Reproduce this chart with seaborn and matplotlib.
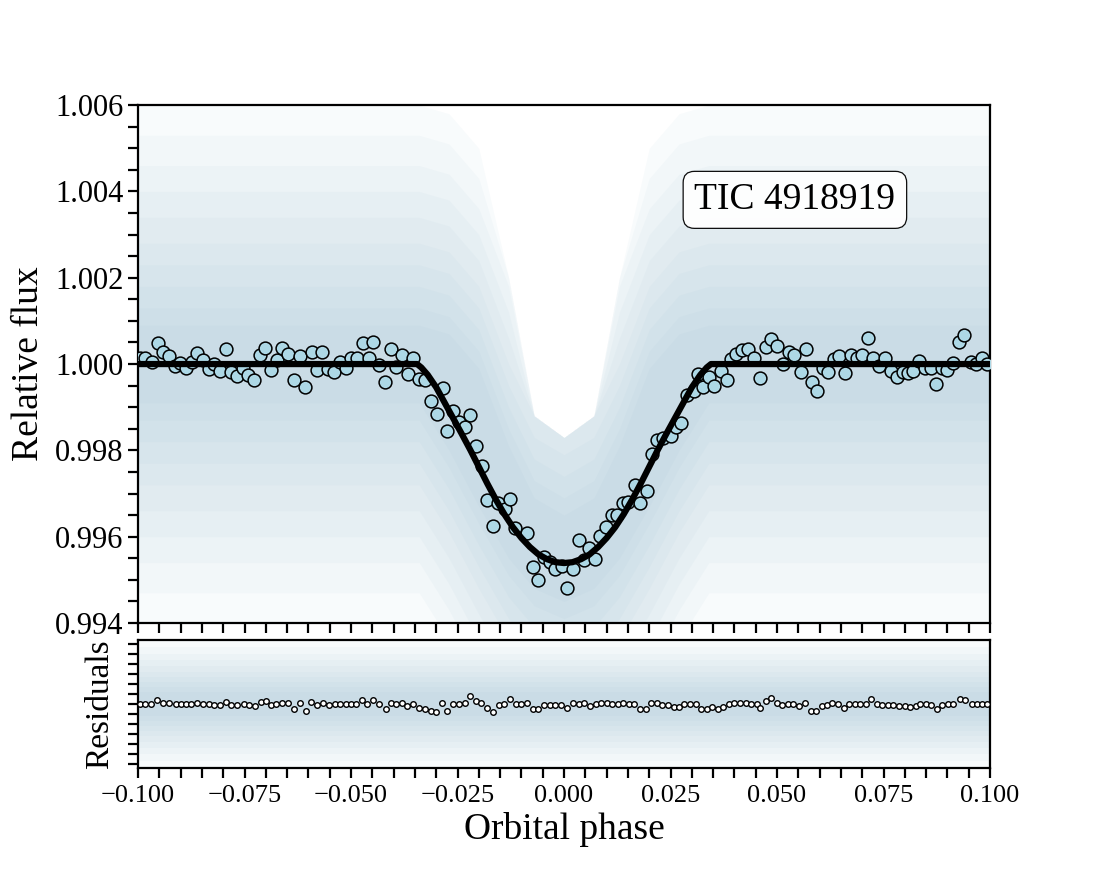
import numpy as np
import pandas as pd
import seaborn as sns
import matplotlib
matplotlib.use("Agg")
import matplotlib.pyplot as plt
from matplotlib.ticker import MultipleLocator, FuncFormatter, NullFormatter

# binned light curve
bin_phase = [
    -0.0995, -0.0984, -0.0968, -0.0954, -0.0942, -0.0927, -0.0913, -0.0901, -0.0887, -0.0874,
    -0.0861, -0.0848, -0.0833, -0.0822, -0.0808, -0.0793, -0.0782, -0.0768, -0.0753, -0.0741,
    -0.0727, -0.0714, -0.0702, -0.0688, -0.0674, -0.0661, -0.0647, -0.0634, -0.0620, -0.0608,
    -0.0592, -0.0579, -0.0567, -0.0553, -0.0540, -0.0527, -0.0512, -0.0501, -0.0487, -0.0473,
    -0.0459, -0.0448, -0.0434, -0.0420, -0.0407, -0.0394, -0.0381, -0.0367, -0.0354, -0.0340,
    -0.0326, -0.0313, -0.0299, -0.0285, -0.0274, -0.0260,
    -0.0246, -0.0232, -0.0221, -0.0207, -0.0193, -0.0181, -0.0166, -0.0154, -0.0138, -0.0127,
    -0.0115, -0.0088, -0.0072, -0.0060, -0.0047, -0.0033, -0.0021, -0.0005, 0.0006, 0.0020,
    0.0034, 0.0047, 0.0059, 0.0073, 0.0085, 0.0099, 0.0112, 0.0125, 0.0138, 0.0151,
    0.0167, 0.0178, 0.0194, 0.0206, 0.0219, 0.0233, 0.0250, 0.0263, 0.0274, 0.0288,
    0.0304, 0.0314, 0.0327, 0.0341, 0.0353, 0.0368, 0.0382,
    0.0391, 0.0404, 0.0417, 0.0433, 0.0446, 0.0460, 0.0474, 0.0485, 0.0501, 0.0515,
    0.0527, 0.0541, 0.0556, 0.0567, 0.0581, 0.0595, 0.0607, 0.0620, 0.0634, 0.0646,
    0.0660, 0.0673, 0.0687, 0.0700, 0.0714, 0.0726, 0.0740, 0.0754, 0.0767, 0.0781,
    0.0795, 0.0807, 0.0820, 0.0834, 0.0847, 0.0861, 0.0873, 0.0887, 0.0900, 0.0914,
    0.0928, 0.0940, 0.0955, 0.0967, 0.0981, 0.0992,
]
bin_flux = [
    1.00013, 1.00015, 1.00005, 1.00048, 1.00027, 1.00019, 0.99996, 1.00002, 0.99990, 1.00004,
    1.00025, 1.00010, 0.99988, 1.00000, 0.99983, 1.00035, 0.99981, 0.99972, 0.99992, 0.99975,
    0.99962, 1.00021, 1.00037, 0.99986, 1.00010, 1.00037, 1.00023, 0.99963, 1.00019, 0.99946,
    1.00029, 0.99987, 1.00027, 0.99988, 0.99982, 1.00004, 0.99991, 1.00013, 1.00013, 1.00048,
    1.00014, 1.00051, 0.99998, 0.99958, 1.00035, 0.99994, 1.00021, 0.99977, 1.00013, 0.99965,
    0.99962, 0.99915, 0.99885, 0.99944, 0.99846, 0.99892,
    0.99865, 0.99854, 0.99881, 0.99811, 0.99764, 0.99685, 0.99625, 0.99677, 0.99665, 0.99688,
    0.99621, 0.99608, 0.99529, 0.99499, 0.99554, 0.99541, 0.99525, 0.99531, 0.99481, 0.99525,
    0.99592, 0.99546, 0.99575, 0.99548, 0.99601, 0.99622, 0.99650, 0.99650, 0.99679, 0.99681,
    0.99719, 0.99679, 0.99706, 0.99792, 0.99823, 0.99828, 0.99833, 0.99854, 0.99864, 0.99928,
    0.99938, 0.99977, 0.99948, 0.99969, 0.99949, 0.99983, 0.99964,
    1.00012, 1.00023, 1.00032, 1.00035, 1.00013, 0.99967, 1.00039, 1.00058, 1.00042, 1.00000,
    1.00029, 1.00021, 0.99982, 1.00035, 0.99958, 0.99938, 0.99992, 0.99981, 1.00012, 1.00019,
    0.99979, 1.00021, 1.00015, 1.00021, 1.00060, 1.00013, 0.99996, 1.00015, 0.99985, 0.99969,
    0.99981, 0.99979, 0.99985, 1.00008, 0.99992, 0.99992, 0.99954, 0.99992, 0.99987, 1.00002,
    1.00051, 1.00067, 1.00005, 1.00000, 1.00015, 1.00000,
]

# transit model
model_phase = [
    -0.1000, -0.0345, -0.0335, -0.0320, -0.0300, -0.0280, -0.0260, -0.0240, -0.0220, -0.0200,
    -0.0180, -0.0160, -0.0140, -0.0120, -0.0100, -0.0080, -0.0060, -0.0040, -0.0020, 0.0000,
    0.0020, 0.0040, 0.0060, 0.0080, 0.0100, 0.0120, 0.0140, 0.0160, 0.0180, 0.0200,
    0.0220, 0.0240, 0.0260, 0.0280, 0.0300, 0.0320, 0.0335, 0.0345, 0.1000,
]
model_flux = [
    1.00000, 1.00000, 0.99992, 0.99975, 0.99946, 0.99910, 0.99874, 0.99838, 0.99801, 0.99762,
    0.99723, 0.99686, 0.99652, 0.99622, 0.99597, 0.99576, 0.99559, 0.99548, 0.99541, 0.99539,
    0.99541, 0.99548, 0.99559, 0.99576, 0.99597, 0.99622, 0.99652, 0.99686, 0.99723, 0.99762,
    0.99801, 0.99838, 0.99874, 0.99910, 0.99946, 0.99975, 0.99992, 1.00000, 1.00000,
]

# unbinned cloud: lower / upper centre, upper cut-off and spread of the layers
cloud_phase = [-0.100, -0.034, -0.027, -0.020, -0.013, -0.007, 0.000,
               0.007, 0.013, 0.020, 0.027, 0.034, 0.100]
cloud_mid_lo = [1.0000, 1.0000, 0.9989, 0.9976, 0.9964, 0.9957, 0.9954,
                0.9957, 0.9964, 0.9976, 0.9989, 1.0000, 1.0000]
cloud_mid_hi = [1.0000, 1.0000, 0.9998, 0.9990, 0.9972, 0.9960, 0.9956,
                0.9960, 0.9972, 0.9990, 0.9998, 1.0000, 1.0000]
cloud_top = [1.0065, 1.0065, 1.0065, 1.0058, 1.0020, 0.9988, 0.9983,
             0.9988, 1.0020, 1.0058, 1.0065, 1.0065, 1.0065]
cloud_spread = [0.0060, 0.0053, 0.0046, 0.0040, 0.0034, 0.0028, 0.0023, 0.0018, 0.0013, 0.0009]

# residuals
res_phase = [
    -0.0996, -0.0983, -0.0969, -0.0955, -0.0941, -0.0928, -0.0912, -0.0900, -0.0887, -0.0875,
    -0.0861, -0.0847, -0.0834, -0.0822, -0.0808, -0.0793, -0.0781, -0.0767, -0.0751, -0.0739,
    -0.0726, -0.0711, -0.0699, -0.0687, -0.0675, -0.0662, -0.0648, -0.0634, -0.0620, -0.0606,
    -0.0593, -0.0580, -0.0566, -0.0552, -0.0538, -0.0525, -0.0512, -0.0499, -0.0488, -0.0474,
    -0.0462, -0.0448, -0.0435, -0.0419, -0.0407, -0.0394, -0.0380, -0.0368, -0.0354, -0.0341,
    -0.0327, -0.0313, -0.0300, -0.0286, -0.0274, -0.0261, -0.0247, -0.0233, -0.0220, -0.0206,
    -0.0194, -0.0181, -0.0167, -0.0153, -0.0141, -0.0126, -0.0113, -0.0100, -0.0087, -0.0073,
    -0.0061, -0.0047, -0.0034, -0.0022, -0.0006, 0.0008,
    0.0022, 0.0035, 0.0048, 0.0061, 0.0074, 0.0087, 0.0100, 0.0113, 0.0126, 0.0139,
    0.0153, 0.0165, 0.0178, 0.0192, 0.0204, 0.0218, 0.0231, 0.0243, 0.0257, 0.0270,
    0.0282, 0.0296, 0.0309, 0.0322, 0.0335, 0.0348, 0.0361, 0.0374, 0.0388, 0.0400,
    0.0413, 0.0427, 0.0439, 0.0452, 0.0460, 0.0473, 0.0486, 0.0499, 0.0512, 0.0525,
    0.0538, 0.0552, 0.0566, 0.0579, 0.0592, 0.0605, 0.0617, 0.0630, 0.0644, 0.0657,
    0.0670, 0.0683, 0.0695, 0.0708, 0.0721, 0.0734, 0.0747, 0.0760, 0.0773, 0.0786,
    0.0800, 0.0812, 0.0826, 0.0836, 0.0849, 0.0862, 0.0875, 0.0888, 0.0902, 0.0914,
    0.0930, 0.0941, 0.0957, 0.0969, 0.0981, 0.0992,
]
res_flux = [
    0.00000, 0.00000, 0.00000, 0.00040, 0.00013, 0.00007, -0.00003, -0.00003, -0.00003, 0.00000,
    0.00013, 0.00003, -0.00003, -0.00007, -0.00013, 0.00020, -0.00007, -0.00013, -0.00003, -0.00010,
    -0.00020, 0.00017, 0.00027, -0.00013, 0.00000, 0.00013, 0.00007, -0.00047, 0.00007, -0.00070,
    0.00017, -0.00007, 0.00013, -0.00007, -0.00003, -0.00003, -0.00003, -0.00003, 0.00000, 0.00040,
    0.00003, 0.00040, 0.00000, -0.00047, 0.00013, -0.00003, 0.00007, -0.00017, -0.00003, -0.00037,
    -0.00047, -0.00070, -0.00083, 0.00013, -0.00073, -0.00003, -0.00003, 0.00013, 0.00080, 0.00030,
    0.00013, -0.00040, -0.00083, -0.00013, 0.00003, 0.00050, 0.00000, 0.00003, 0.00007, -0.00047,
    -0.00053, -0.00007, -0.00010, -0.00010, -0.00013, -0.00043,
    0.00013, -0.00003, 0.00013, -0.00020, 0.00000, 0.00007, 0.00007, 0.00000, 0.00003, 0.00007,
    0.00000, 0.00000, -0.00053, -0.00053, 0.00013, 0.00013, -0.00007, -0.00010, -0.00027, -0.00027,
    -0.00003, 0.00000, -0.00003, -0.00050, -0.00053, -0.00027, -0.00050, -0.00027, 0.00000, 0.00007,
    0.00007, 0.00007, 0.00000, -0.00003, -0.00043, 0.00033, 0.00057, 0.00013, -0.00010, -0.00003,
    0.00000, -0.00020, 0.00007, -0.00070, -0.00070, -0.00020, -0.00010, 0.00013, -0.00003, -0.00037,
    -0.00003, 0.00000, 0.00000, -0.00003, 0.00053, -0.00003, -0.00013, -0.00013, -0.00013, -0.00020,
    -0.00020, -0.00027, -0.00020, -0.00003, 0.00000, -0.00013, -0.00053, -0.00013, -0.00003, 0.00000,
    0.00050, 0.00040, -0.00003, -0.00003, -0.00003, -0.00003,
]
res_spread = [0.0064, 0.0057, 0.0050, 0.0044, 0.0038, 0.0032, 0.0027, 0.0022, 0.0017, 0.0012]

target_name = "TIC 4918919"

sns.set_style("ticks")
plt.rcParams["font.family"] = ["Liberation Serif", "DejaVu Serif"]
for key in ("text.color", "axes.labelcolor", "xtick.color", "ytick.color", "axes.edgecolor"):
    plt.rcParams[key] = "black"

cloud_color = "#86b3cb"
layer_alpha = 0.05


def fmt3(v, pos):
    return f"{v:.3f}".replace("-", "\u2212")


fig = plt.figure(figsize=(11, 8.8), dpi=100)
ax = fig.add_axes([0.1255, 0.2920, 0.7745, 0.5886])
axr = fig.add_axes([0.1255, 0.1273, 0.7745, 0.1455], sharex=ax)

# --- top panel ---
mid_lo = np.array(cloud_mid_lo)
mid_hi = np.array(cloud_mid_hi)
top = np.array(cloud_top)
for w in cloud_spread:
    ax.fill_between(cloud_phase, mid_lo - w, np.minimum(mid_hi + w, top),
                    color=cloud_color, alpha=layer_alpha, lw=0)

df_bin = pd.DataFrame({"phase": bin_phase, "flux": bin_flux})
sns.scatterplot(data=df_bin, x="phase", y="flux", s=85, color="#add8e6",
                edgecolor="black", linewidth=1.1, zorder=3, ax=ax)

df_model = pd.DataFrame({"phase": model_phase, "flux": model_flux})
sns.lineplot(data=df_model, x="phase", y="flux", color="black", lw=4.5,
             sort=False, estimator=None, zorder=4, ax=ax)

ax.set_xlim(-0.1, 0.1)
ax.set_ylim(0.994, 1.006)
ax.yaxis.set_major_locator(MultipleLocator(0.002))
ax.yaxis.set_minor_locator(MultipleLocator(0.0005))
ax.yaxis.set_major_formatter(FuncFormatter(fmt3))
ax.xaxis.set_major_locator(MultipleLocator(0.025))
ax.xaxis.set_minor_locator(MultipleLocator(0.005))
ax.tick_params(axis="x", which="both", labelbottom=False)
ax.tick_params(axis="y", labelsize=22)
ax.set_xlabel("")
ax.set_ylabel("Relative flux", fontsize=27)
ax.yaxis.set_label_coords(-0.108, 0.5)

ax.text(0.771, 0.817, target_name, transform=ax.transAxes, ha="center", va="center",
        fontsize=27, zorder=6,
        bbox=dict(boxstyle="round,pad=0.3", fc="white", ec="black", lw=0.9, alpha=0.95))

# --- residual panel ---
for w in res_spread:
    axr.fill_between([-0.1, 0.1], -w, w, color=cloud_color, alpha=layer_alpha, lw=0)

df_res = pd.DataFrame({"phase": res_phase, "resid": res_flux})
sns.scatterplot(data=df_res, x="phase", y="resid", s=16, facecolor="white",
                edgecolor="black", linewidth=1.0, zorder=3, ax=axr)

axr.set_ylim(-0.0064, 0.0064)
axr.yaxis.set_major_locator(MultipleLocator(0.002))
axr.yaxis.set_minor_locator(MultipleLocator(0.001))
axr.yaxis.set_major_formatter(NullFormatter())
axr.xaxis.set_major_formatter(FuncFormatter(fmt3))
axr.tick_params(axis="x", labelsize=19, pad=5)
axr.set_xlim(-0.1, 0.1)
axr.set_xlabel("Orbital phase", fontsize=27)
axr.set_ylabel("Residuals", fontsize=24)
axr.yaxis.set_label_coords(-0.027, 0.5)

for a in (ax, axr):
    for sp in a.spines.values():
        sp.set_visible(True)
        sp.set_linewidth(1.6)
        sp.set_color("black")
    a.tick_params(which="both", direction="out", length=7, width=1.6, color="black",
                  left=True, bottom=True, right=False, top=False)

fig.savefig("out.png", dpi=100)
